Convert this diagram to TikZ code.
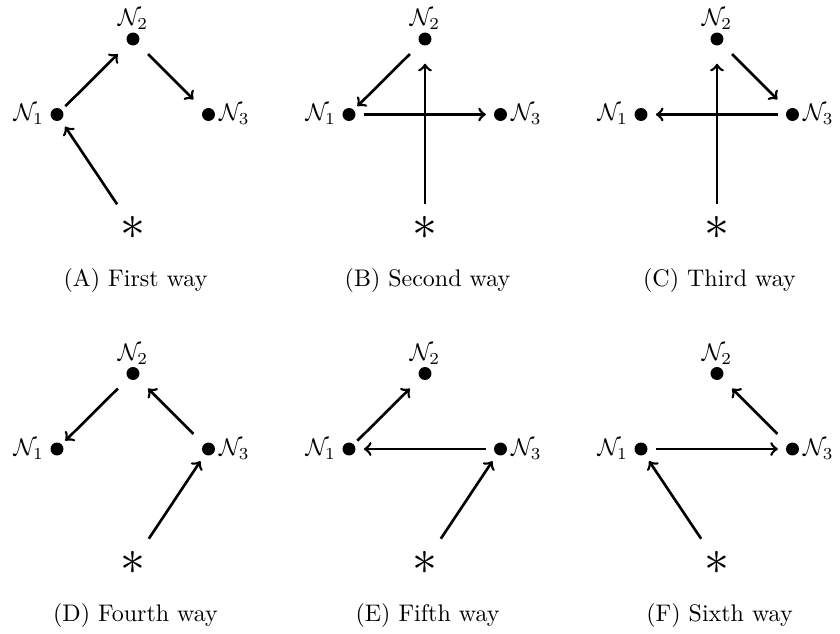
\documentclass[tikz,border=0pt]{standalone}
\usepackage{amsmath}
\begin{document}
\begin{tikzpicture}[x=0.4167pt, y=0.4167pt,
  dot/.style={circle, fill, inner sep=0pt, minimum size=5.4pt},
  src/.style={circle, inner sep=0pt, minimum size=20pt, font=\huge},
  way/.style={->, line width=1.1pt}]
  \useasboundingbox (0,0) rectangle (840,633);

  % Nodes of the six ways
  \foreach \p/\dx/\dy/\txt in {a/0/0/{(A) First way}, b/292/0/{(B) Second way},
      c/584/0/{(C) Third way}, d/0/-334.5/{(D) Fourth way},
      e/292/-334.5/{(E) Fifth way}, f/584/-334.5/{(F) Sixth way}} {
    \begin{scope}[shift={(\dx,\dy)}]
      \node[dot, label={[label distance=-1pt]left:$\mathcal{N}_1$}] (\p1) at (57,518.5) {};
      \node[dot, label={[label distance=-2.5pt]above:$\mathcal{N}_2$}] (\p2) at (133,594) {};
      \node[dot, label={[label distance=-2pt]right:$\mathcal{N}_3$}] (\p3) at (208.5,518.5) {};
      \node[src] (\p s) at (133,405) {$*$};
      \node[anchor=base] (\p c) at (135.5,346.5) {\txt};
    \end{scope}
  }

  % First way
  \draw[way, shorten <=2pt, shorten >=6pt] (a1) -- (a2);
  \draw[way, shorten <=6pt, shorten >=6pt] (a2) -- (a3);
  \draw[way, shorten <=1.7pt, shorten >=3.2pt] (as) -- (a1);

  % Second way
  \draw[way, shorten <=6pt, shorten >=2pt] (b2) -- (b1);
  \draw[way, shorten <=3.3pt, shorten >=3.2pt] (b1) -- (b3);
  \draw[way, shorten >=7.4pt] (bs) -- (b2);

  % Third way
  \draw[way, shorten <=6pt, shorten >=6pt] (c2) -- (c3);
  \draw[way, shorten <=3.2pt, shorten >=3.3pt] (c3) -- (c1);
  \draw[way, shorten >=7.4pt] (cs) -- (c2);

  % Fourth way
  \draw[way, shorten <=6pt, shorten >=2pt] (d2) -- (d1);
  \draw[way, shorten <=6pt, shorten >=6pt] (d3) -- (d2);
  \draw[way, shorten <=1.7pt, shorten >=3.2pt] (ds) -- (d3);

  % Fifth way
  \draw[way, shorten <=2pt, shorten >=6pt] (e1) -- (e2);
  \draw[way, shorten <=3.2pt, shorten >=3.3pt] (e3) -- (e1);
  \draw[way, shorten <=1.7pt, shorten >=3.2pt] (es) -- (e3);

  % Sixth way
  \draw[way, shorten <=6pt, shorten >=6pt] (f3) -- (f2);
  \draw[way, shorten <=3.3pt, shorten >=3.2pt] (f1) -- (f3);
  \draw[way, shorten <=1.7pt, shorten >=3.2pt] (fs) -- (f1);
\end{tikzpicture}
\end{document}
